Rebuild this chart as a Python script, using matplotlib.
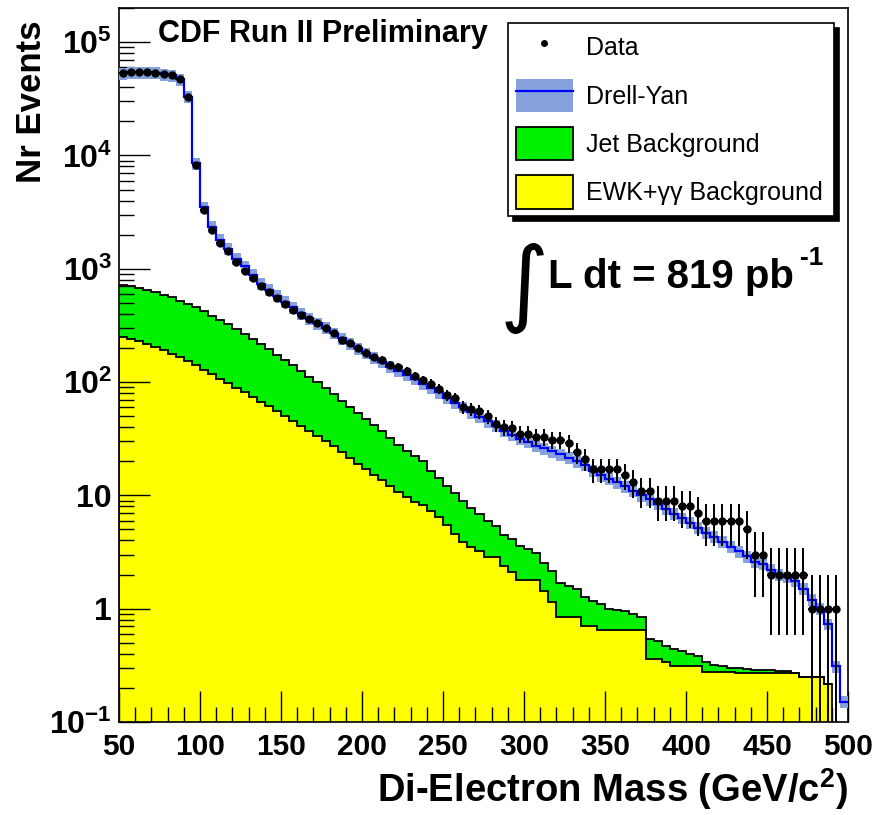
import numpy as np
import matplotlib
matplotlib.use("Agg")
import matplotlib.pyplot as plt
from matplotlib.patches import Patch
from matplotlib.lines import Line2D
from matplotlib.ticker import MultipleLocator, LogLocator, NullFormatter

plt.rcParams['font.family'] = ['Liberation Sans', 'DejaVu Sans']
plt.rcParams['mathtext.fontset'] = 'custom'
plt.rcParams['mathtext.rm'] = 'Liberation Sans'
plt.rcParams['mathtext.bf'] = 'Liberation Sans:bold'

# bins of 5 GeV from 50 to 500
edges = np.arange(50, 505, 5)

data_counts = [53000, 54000, 54000, 54000, 53500, 52000, 51000, 47000, 33000, 8300,
               3300, 2200, 1700, 1420, 1150, 960, 830, 700, 620, 550,
               490, 435, 390, 360, 330, 300, 270, 235, 220, 200,
               182, 165, 158, 142, 137, 124, 112, 104, 96, 87,
               77, 72, 60, 58, 55, 50, 43, 40, 39, 35,
               35, 33, 33, 31, 31, 29, 24, 21, 17, 17,
               17, 17, 15, 13, 11, 11, 9, 9, 9, 8,
               8, 7, 6, 6, 6, 6, 6, 5, 3, 3,
               2, 2, 2, 2, 2, 1, 1, 1, 1, 0]

drell_yan = [53000, 54000, 54000, 54000, 53500, 52000, 51000, 47000, 33000, 8500,
             3500, 2350, 1800, 1500, 1230, 1050, 880, 740, 650, 575,
             510, 455, 405, 365, 330, 300, 270, 243, 220, 198,
             180, 163, 150, 137, 126, 116, 106, 97, 89, 81,
             73, 66, 60, 54, 49, 45, 41, 37, 34, 31.5,
             29.5, 27.5, 26, 24.5, 23, 21.5, 20, 18.5, 16.5, 15,
             14, 13, 12, 11, 10, 9.2, 8.4, 7.6, 6.9, 6.3,
             5.7, 5.2, 4.7, 4.3, 3.9, 3.5, 3.2, 2.9, 2.6, 2.5,
             2.2, 2.0, 1.9, 1.75, 1.5, 1.2, 1.0, 0.73, 0.31, 0.15]

# jet + ewk stacked (top of green)
bkg_total = [720, 700, 670, 650, 620, 590, 560, 520, 490, 455,
             420, 385, 355, 325, 295, 265, 240, 215, 195, 175,
             155, 140, 125, 110, 100, 88, 78, 68, 60, 53,
             47, 42, 37, 32, 28, 24.7, 22.2, 20, 16.3, 14.3,
             12.0, 10.5, 8.9, 7.8, 6.8, 5.9, 5.35, 4.5, 4.1, 3.6,
             3.35, 3.1, 2.55, 2.15, 1.7, 1.6, 1.5, 1.26, 1.18, 1.1,
             1.0, 0.98, 0.95, 0.89, 0.85, 0.54, 0.52, 0.47, 0.44, 0.42,
             0.40, 0.38, 0.34, 0.32, 0.31, 0.30, 0.30, 0.295, 0.29, 0.29,
             0.29, 0.28, 0.28, 0.27, 0.25, 0.25, 0.25, 0.216, 0, 0]

ewk_gg = [250, 240, 230, 218, 205, 190, 178, 165, 152, 140,
          128, 117, 107, 98, 89, 81, 74, 67, 61, 55,
          50, 45, 41, 37, 33.5, 30, 27, 24, 21.5, 19,
          17, 15.2, 13.6, 12.2, 10.8, 9.6, 8.7, 8.2, 7.3, 6.5,
          5.5, 4.6, 3.9, 3.5, 3.2, 2.85, 2.85, 2.4, 2.1, 1.8,
          1.8, 1.8, 1.43, 1.15, 0.84, 0.84, 0.84, 0.71, 0.71, 0.65,
          0.65, 0.65, 0.65, 0.65, 0.65, 0.36, 0.36, 0.336, 0.31, 0.31,
          0.31, 0.31, 0.277, 0.277, 0.277, 0.277, 0.27, 0.27, 0.27, 0.27,
          0.27, 0.27, 0.27, 0.27, 0.248, 0.248, 0.248, 0.216, 0, 0]

dy_unc = 0.12  # relative width of the DY band

data_counts = np.array(data_counts, dtype=float)
drell_yan = np.array(drell_yan)
bkg_total = np.array(bkg_total)
ewk_gg = np.array(ewk_gg)
centers = 0.5 * (edges[:-1] + edges[1:])
floor = 1e-3

fig = plt.figure(figsize=(8.88, 8.15), dpi=100)
ax = fig.add_axes([119/888, 1 - 722/815, 729/888, 714/815])
ax.set_yscale('log')

# stacked backgrounds
nb = np.count_nonzero(ewk_gg)
be = edges[:nb + 1]
ax.stairs(ewk_gg[:nb], be, baseline=floor, fill=True, color='#ffff00', zorder=1)
ax.stairs(bkg_total[:nb], be, baseline=ewk_gg[:nb], fill=True, color='#00f000', zorder=1)
ax.stairs(ewk_gg[:nb], be, baseline=floor, color='black', lw=1.3, zorder=2)
ax.stairs(bkg_total[:nb], be, baseline=None, color='black', lw=1.3, zorder=2)

# drell-yan with band
band_lo = np.append(drell_yan * (1 - dy_unc), drell_yan[-1] * (1 - dy_unc))
band_hi = np.append(drell_yan * (1 + dy_unc), drell_yan[-1] * (1 + dy_unc))
ax.fill_between(edges, band_lo, band_hi, step='post', color='#86a2dc', lw=0, zorder=3)
ax.stairs(drell_yan, edges, baseline=None, color='#0000ff', lw=1.6, zorder=4)

# data
m = data_counts > 0
err = np.sqrt(data_counts[m])
err_lo = np.where(data_counts[m] - err <= 0, data_counts[m] - floor, err)
ax.errorbar(centers[m], data_counts[m], xerr=2.5, yerr=[err_lo, err],
            fmt='o', color='black', ms=5, elinewidth=1.4, capsize=0, zorder=5)

ax.set_xlim(50, 500)
ax.set_ylim(0.1, 2.0e5)

ax.xaxis.set_major_locator(MultipleLocator(50))
ax.xaxis.set_minor_locator(MultipleLocator(10))
ax.set_yticks([0.1, 1, 10, 100, 1e3, 1e4, 1e5])
ax.set_yticklabels([r'$\mathbf{10^{-1}}$', '1', '10', r'$\mathbf{10^{2}}$',
                    r'$\mathbf{10^{3}}$', r'$\mathbf{10^{4}}$', r'$\mathbf{10^{5}}$'])
ax.yaxis.set_minor_locator(LogLocator(base=10, subs=np.arange(2, 10)))
ax.yaxis.set_minor_formatter(NullFormatter())
ax.tick_params(which='both', direction='in', top=False, right=False, width=1)
ax.tick_params(which='major', length=22)
ax.tick_params(which='minor', length=11)
ax.tick_params(axis='x', pad=8, labelsize=21.5)
ax.tick_params(axis='y', pad=5, labelsize=23)
for lab in ax.get_xticklabels() + ax.get_yticklabels():
    lab.set_fontweight('bold')
for sp in ax.spines.values():
    sp.set_linewidth(1.2)

ax.set_xlabel(r'Di-Electron Mass (GeV/c$^{\mathbf{2}}$)', fontsize=27.5,
              fontweight='bold', loc='right', labelpad=4)
ax.set_ylabel('Nr Events', fontsize=25, fontweight='bold', loc='top')
ax.yaxis.set_label_coords(-0.098, 0.983)

fig.text(158/888, 1 - 42/815, 'CDF Run II Preliminary', fontsize=22,
         fontweight='bold', va='baseline', ha='left')

# luminosity
fig.text(524/888, 1 - 288/815, '\u222b', fontsize=68, family='DejaVu Sans',
         ha='center', va='center')
fig.text(548/888, 1 - 288/815, 'L dt = 819 pb', fontsize=29,
         fontweight='bold', va='baseline', ha='left')
fig.text(800/888, 1 - 265/815, '-1', fontsize=19, fontweight='bold',
         va='baseline', ha='left')

handles = [Line2D([], [], marker='o', color='black', ms=4, ls='none'),
           (Patch(facecolor='#86a2dc', edgecolor='none'),
            Line2D([], [], color='#0000ff', lw=1.6)),
           Patch(facecolor='#00f000', edgecolor='black', lw=1.3),
           Patch(facecolor='#ffff00', edgecolor='black', lw=1.3)]
labels = ['Data', 'Drell-Yan', 'Jet Background', 'EWK+\u03b3\u03b3 Background']
leg = ax.legend(handles, labels, loc='upper left',
                bbox_to_anchor=(389/729, 0.0, 326/729, 699/714), mode='expand',
                borderaxespad=0, fontsize=18, handlelength=2.28,
                handleheight=1.67, labelspacing=0.6, handletextpad=0.52,
                borderpad=0.3, fancybox=False, framealpha=1,
                edgecolor='black',
                shadow={'ox': 3.5, 'oy': -3.5, 'color': 'black', 'alpha': 1})
leg.get_frame().set_linewidth(1.2)
leg.set_zorder(10)

fig.savefig('out.png', dpi=100)
